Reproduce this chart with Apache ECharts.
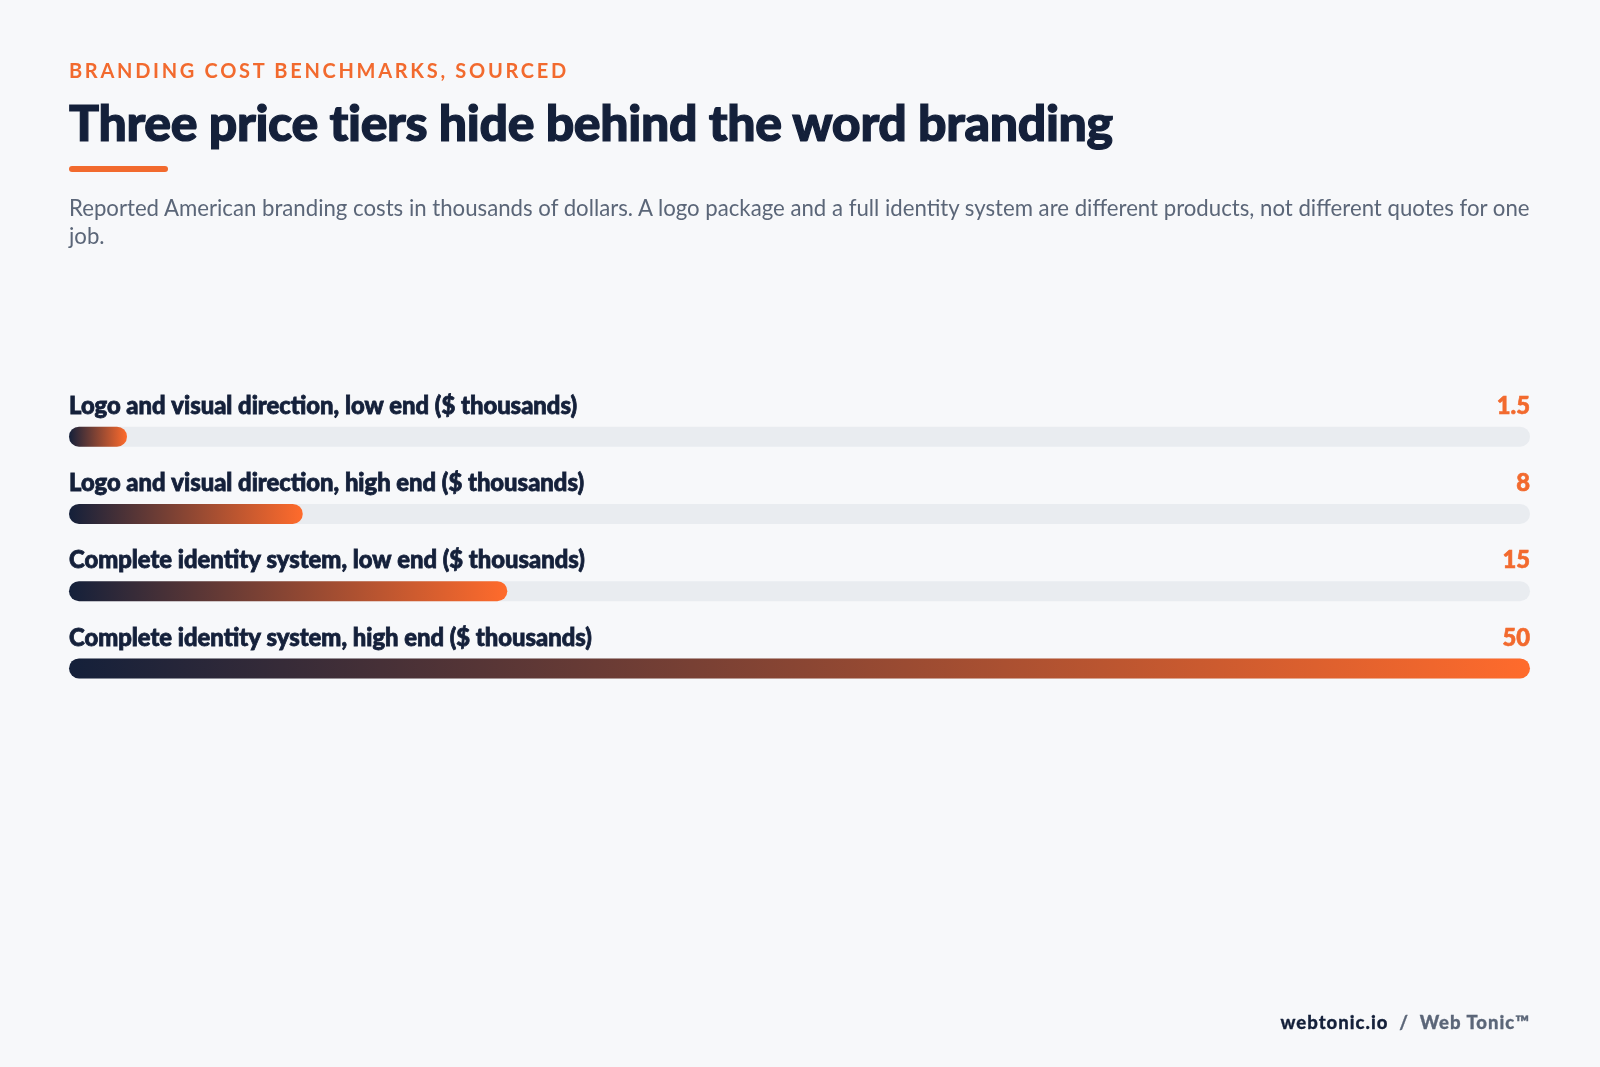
<!DOCTYPE html>
<html><head><meta charset="utf-8">
<script src="https://cdn.jsdelivr.net/npm/echarts@6/dist/echarts.min.js"></script>
<style>
html,body{margin:0;padding:0;width:1600px;height:1067px;background:#f7f8fa;font-family:Lato,"Noto Sans",sans-serif;overflow:hidden}
#c{position:absolute;left:0;top:0;width:1600px;height:1067px}
.t{position:absolute;left:69px;white-space:nowrap}
</style></head><body>
<div id="c"></div>
<div class="t" style="top:58px;font-size:20px;font-weight:700;letter-spacing:2.7px;color:#f26a2e">BRANDING COST BENCHMARKS, SOURCED</div>
<div class="t" style="top:92px;font-size:50px;font-weight:900;letter-spacing:-0.35px;color:#14203a;-webkit-text-stroke:1.2px #14203a">Three price tiers hide behind the word branding</div>
<div style="position:absolute;left:69px;top:166px;width:99px;height:6px;border-radius:3px;background:#f26a2e"></div>
<div class="t" style="top:194px;width:1475px;white-space:normal;font-size:22.2px;line-height:28px;letter-spacing:0px;color:#5b6678">Reported American branding costs in thousands of dollars. A logo package and a full identity system are different products, not different quotes for one job.</div>
<div style="position:absolute;right:70px;top:1011px;font-size:18.5px;font-weight:900;letter-spacing:1px;color:#14203a;-webkit-text-stroke:0.3px #14203a">webtonic.io <span style="color:#5b6678;-webkit-text-stroke:0.3px #5b6678">&nbsp;/&nbsp; Web Tonic™</span></div>
<script>
const categories=["Logo and visual direction, low end ($ thousands)","Logo and visual direction, high end ($ thousands)","Complete identity system, low end ($ thousands)","Complete identity system, high end ($ thousands)"];
const values=[1.5,8,15,50];
const maxValue=50;
const chart=echarts.init(document.getElementById('c'));
const grad=new echarts.graphic.LinearGradient(0,0,1,0,[{offset:0,color:'#14203a'},{offset:1,color:'#ff6b2c'}]);
chart.setOption({
 animation:false,
 grid:{left:69,right:70,top:398,height:309},
 xAxis:{type:'value',min:0,max:maxValue,show:false},
 yAxis:{type:'category',data:categories,inverse:true,show:false},
 series:[
  {type:'bar',data:categories.map(()=>maxValue),barWidth:20,barGap:'-100%',silent:true,
   itemStyle:{color:'#e9ecf0',borderRadius:10},
   label:{show:true,position:[0,-32.5],formatter:p=>p.name,color:'#14203a',fontSize:23.8,fontWeight:900,fontFamily:'Lato',textBorderColor:'#14203a',textBorderWidth:0.8}},
  {type:'bar',data:values,barWidth:20,barGap:'-100%',barMinHeight:58,itemStyle:{color:grad,borderRadius:10}},
  {type:'bar',data:categories.map(()=>maxValue),barWidth:20,barGap:'-100%',silent:true,
   itemStyle:{color:'rgba(0,0,0,0)'},
   label:{show:true,position:['100%',-32.5],align:'right',formatter:p=>String(values[p.dataIndex]),color:'#f26a2e',fontSize:23.8,fontWeight:900,fontFamily:'Lato',textBorderColor:'#f26a2e',textBorderWidth:0.6}}
 ]
});
</script>
</body></html>
